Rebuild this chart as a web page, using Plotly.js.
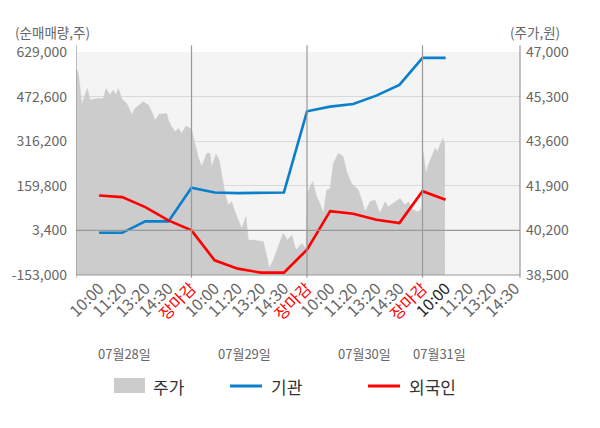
<!DOCTYPE html>
<html>
<head>
<meta charset="utf-8">
<script src="https://cdn.plot.ly/plotly-3.0.1.min.js"></script>
<style>
  html, body { margin: 0; padding: 0; background: #fff; }
  #chart { width: 600px; height: 428px; }
</style>
</head>
<body>
<div id="chart"></div>
<script>
// x axis: one slot per tick label, day boundaries at 5, 10, 15
const sessionTimes = ['10:00', '11:20', '13:20', '14:30', '장마감'];
const days = ['07월28일', '07월29일', '07월30일', '07월31일'];
const dayLabelPos = [2.1, 7.3, 12.5, 15.75];

// 주가 (right axis), intraday points
const priceX = [
  0, 0.10, 0.17, 0.25, 0.39, 0.49, 0.61, 0.90, 1.18, 1.30, 1.47, 1.61, 1.73, 1.83, 1.98,
  2.19, 2.26, 2.41, 2.55, 2.91, 3.13, 3.28, 3.42, 3.61, 3.93, 4.00, 4.14, 4.29, 4.43, 4.58, 4.76, 4.94,
  5.01, 5.12, 5.29, 5.44, 5.66, 5.80, 5.87, 6.06, 6.20, 6.31, 6.45, 6.59, 6.74, 6.88, 7.03, 7.17,
  7.36, 7.46, 7.68, 8.11, 8.26, 8.37, 8.54, 8.76, 8.97, 9.15, 9.34, 9.52, 9.78, 9.96,
  10.01, 10.13, 10.25, 10.42, 10.56, 10.71, 10.85, 11.00, 11.14, 11.36, 11.57, 11.72, 11.93, 12.08,
  12.22, 12.37, 12.51, 12.73, 12.94, 13.16, 13.38, 13.52, 13.74, 14.03, 14.24, 14.39, 14.60, 14.82, 14.96,
  15.03, 15.15, 15.25, 15.40, 15.54, 15.64, 15.76, 15.88, 15.97
];
const price = [
  46375, 46185, 45670, 44980, 45360, 45610, 45170, 45230, 45230, 45610, 45360, 45550, 45360, 45610, 45230,
  45040, 44920, 44600, 44850, 45100, 44980, 44720, 44400, 44630, 44660, 44400, 44150, 43960, 44090, 43900, 44180, 44090,
  44020, 43640, 43000, 42630, 43140, 43140, 42630, 43110, 42880, 42310, 41610, 41170, 41290, 40910, 40600, 40280,
  40720, 39830, 39830, 39770, 39200, 38760, 39070, 39580, 40090, 39830, 40020, 39450, 39700, 39500,
  41610, 41860, 42060, 41480, 41230, 40850, 41740, 41800, 42760, 43140, 43010, 42440, 41990, 41860,
  41740, 41360, 40910, 41290, 41360, 40850, 41290, 41100, 41230, 41420, 41170, 41290, 40980, 40910, 41040,
  43200, 42370, 42690, 43010, 43330, 43200, 43450, 43710, 43500
];

// 순매매량 (left axis), one value per slot 1..16
const flowX = [1, 2, 3, 4, 5, 6, 7, 8, 9, 10, 11, 12, 13, 14, 15, 16];
const institution = [-5000, -5000, 35000, 35000, 152800, 136400, 134000, 135000, 136400,
  421000, 437400, 446900, 475900, 513900, 608400, 608400];
const foreign = [125900, 120000, 85000, 38400, 3400, -101600, -130700, -144700, -144700,
  -64200, 71000, 61900, 40900, 29000, 141000, 110900];

const leftTicks = [-153000, 3400, 159800, 316200, 472600, 629000];
const rightTicks = [38500, 40200, 41900, 43600, 45300, 47000];

const FONT = 'Noto Sans CJK KR, Noto Sans, sans-serif';
const fmt = v => v.toLocaleString('en-US');

const tickVals = [];
const tickText = [];
days.forEach((d, i) => {
  sessionTimes.forEach((t, j) => {
    if (i === days.length - 1 && t === '장마감') return;
    tickVals.push(i * 5 + j + 1);
    let color = '#666';
    if (t === '장마감') color = '#ff0000';
    if (i === days.length - 1 && j === 0) color = '#222';
    tickText.push('<span style="color:' + color + '">' + t + '</span>');
  });
});

// price sits on the base axis so the flow lines (overlay axis) draw on top of it
const traces = [
  {
    x: priceX, y: price, yaxis: 'y', type: 'scatter', mode: 'lines',
    line: {color: '#cccccc', width: 0.5}, fill: 'tozeroy', fillcolor: '#cccccc',
    name: '주가', showlegend: false, hoverinfo: 'skip'
  },
  {
    x: flowX, y: institution, yaxis: 'y2', type: 'scatter', mode: 'lines',
    line: {color: '#0a7fcc', width: 2.6}, name: '기관', showlegend: false
  },
  {
    x: flowX, y: foreign, yaxis: 'y2', type: 'scatter', mode: 'lines',
    line: {color: '#ff0000', width: 2.6}, name: '외국인', showlegend: false
  }
];

const shapes = [];
// darker reference line at 3,400
shapes.push({type: 'line', xref: 'paper', x0: 0, x1: 1, yref: 'y2', y0: 3400, y1: 3400,
  line: {color: '#999', width: 1.2}, layer: 'above'});
// day boundaries and axis edges, extending as tick marks below
[0, 5, 10, 15].forEach(v => shapes.push({type: 'line', xref: 'x', x0: v, x1: v, yref: 'paper', y0: -0.012, y1: 1.03,
  line: {color: '#999', width: 1.2}, layer: 'above'}));
shapes.push({type: 'line', xref: 'paper', x0: 1, x1: 1, yref: 'paper', y0: -0.012, y1: 1.03,
  line: {color: '#999', width: 1.2}, layer: 'above'});
shapes.push({type: 'line', xref: 'paper', x0: 0, x1: 1, yref: 'paper', y0: 0, y1: 0,
  line: {color: '#999', width: 1.2}, layer: 'above'});

// legend drawn by hand
shapes.push({type: 'rect', xref: 'paper', yref: 'paper', x0: (114 - 76) / 444, x1: (145 - 76) / 444,
  y0: (275 - 393) / 223, y1: (275 - 378) / 223, fillcolor: '#cccccc', line: {width: 0}});
shapes.push({type: 'line', xref: 'paper', yref: 'paper', x0: (230 - 76) / 444, x1: (262 - 76) / 444,
  y0: (275 - 386) / 223, y1: (275 - 386) / 223, line: {color: '#0a7fcc', width: 3}});
shapes.push({type: 'line', xref: 'paper', yref: 'paper', x0: (368 - 76) / 444, x1: (400 - 76) / 444,
  y0: (275 - 386) / 223, y1: (275 - 386) / 223, line: {color: '#ff0000', width: 3}});

const annotations = [
  {text: '(순매매량,주)', xref: 'paper', yref: 'paper', x: (13 - 76) / 444, y: (275 - 32) / 223,
    xanchor: 'left', yanchor: 'middle', showarrow: false, font: {size: 13.5, color: '#666', family: FONT}},
  {text: '(주가,원)', xref: 'paper', yref: 'paper', x: (508 - 76) / 444, y: (275 - 32) / 223,
    xanchor: 'left', yanchor: 'middle', showarrow: false, font: {size: 13.5, color: '#666', family: FONT}},
  {text: '주가', xref: 'paper', yref: 'paper', x: (151 - 76) / 444, y: (275 - 386) / 223,
    xanchor: 'left', yanchor: 'middle', showarrow: false, font: {size: 17, color: '#333', family: FONT}},
  {text: '기관', xref: 'paper', yref: 'paper', x: (269 - 76) / 444, y: (275 - 386) / 223,
    xanchor: 'left', yanchor: 'middle', showarrow: false, font: {size: 17, color: '#333', family: FONT}},
  {text: '외국인', xref: 'paper', yref: 'paper', x: (407 - 76) / 444, y: (275 - 386) / 223,
    xanchor: 'left', yanchor: 'middle', showarrow: false, font: {size: 17, color: '#333', family: FONT}}
];
days.forEach((d, i) => annotations.push({
  text: d, xref: 'x', x: dayLabelPos[i], yref: 'paper', y: (275 - 353) / 223,
  xanchor: 'center', yanchor: 'middle', showarrow: false, font: {size: 13, color: '#666', family: FONT}
}));

const layout = {
  width: 600, height: 428,
  margin: {l: 76, r: 80, t: 52, b: 153},
  paper_bgcolor: '#ffffff',
  plot_bgcolor: '#f4f4f4',
  font: {family: FONT, color: '#666', size: 14},
  showlegend: false,
  xaxis: {
    range: [0, 19.22], tickmode: 'array', tickvals: tickVals, ticktext: tickText,
    tickangle: -45, showgrid: false, zeroline: false, showline: false, ticks: '',
    tickfont: {size: 16, family: FONT}, fixedrange: true
  },
  yaxis: {
    range: [38500, 47000], side: 'right', tickmode: 'array',
    tickvals: rightTicks, ticktext: rightTicks.map(fmt),
    showgrid: true, gridcolor: '#d9d9d9', gridwidth: 1, zeroline: false,
    showline: false, ticks: '', ticklabelstandoff: 5, tickfont: {size: 14, family: FONT}
  },
  yaxis2: {
    range: [-153000, 629000], overlaying: 'y', side: 'left', tickmode: 'array',
    tickvals: leftTicks, ticktext: leftTicks.map(fmt),
    showgrid: false, zeroline: false, showline: false,
    ticks: '', ticklabelstandoff: 8, tickfont: {size: 14, family: FONT}
  },
  shapes: shapes,
  annotations: annotations
};

Plotly.newPlot('chart', traces, layout, {displayModeBar: false, staticPlot: true});
</script>
</body>
</html>
